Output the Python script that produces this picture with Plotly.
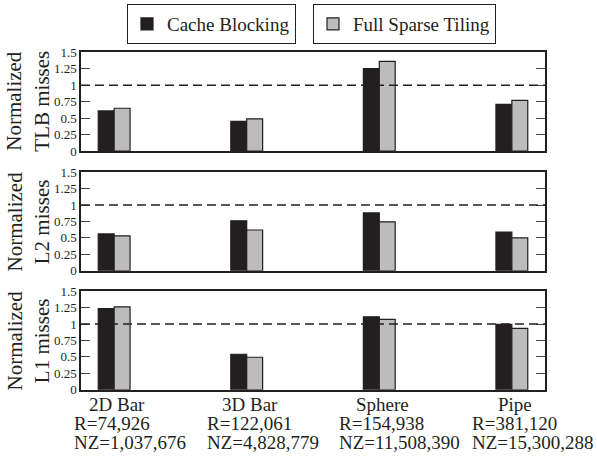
import plotly.graph_objects as go

# Benchmark meshes and their sizes
categories = ["2D Bar", "3D Bar", "Sphere", "Pipe"]
rows_r = ["R=74,926", "R=122,061", "R=154,938", "R=381,120"]
nonzeros = ["NZ=1,037,676", "NZ=4,828,779", "NZ=11,508,390", "NZ=15,300,288"]

series_names = ["Cache Blocking", "Full Sparse Tiling"]

# Normalized miss counts (baseline = 1)
tlb_cb = [0.61, 0.45, 1.25, 0.71]
tlb_fst = [0.65, 0.49, 1.36, 0.77]
l2_cb = [0.56, 0.76, 0.88, 0.59]
l2_fst = [0.53, 0.62, 0.745, 0.50]
l1_cb = [1.235, 0.54, 1.11, 0.995]
l1_fst = [1.26, 0.495, 1.07, 0.935]

panel_titles = ["Normalized<br>TLB misses", "Normalized<br>L2 misses", "Normalized<br>L1 misses"]
tick_vals = [0, 0.25, 0.5, 0.75, 1, 1.25, 1.5]
tick_text = ["0", "0.25", "0.5", "0.75", "1", "1.25", "1.5"]

W, H = 597, 460
SERIF = "Liberation Serif, Times New Roman, serif"
INK = "#231f20"
GREY = "#bcbcbc"

x_idx = list(range(len(categories)))
panels = [(tlb_cb, tlb_fst), (l2_cb, l2_fst), (l1_cb, l1_fst)]
# vertical pixel extents of each panel (top, bottom)
panel_px = [(46.7, 149.0), (170.7, 272.7), (293.7, 395.7)]
x_dom = [81 / W, 545 / W]

fig = go.Figure()
layout = dict()

for p, (cb, fst) in enumerate(panels):
    k = "" if p == 0 else str(p + 1)
    xa, ya = "x" + k, "y" + k
    fig.add_trace(go.Bar(
        x=x_idx, y=cb, name=series_names[0], xaxis=xa, yaxis=ya,
        marker=dict(color=INK, line=dict(color=INK, width=1.2)),
        showlegend=(p == 0), legend="legend", legendgroup="cb",
    ))
    fig.add_trace(go.Bar(
        x=x_idx, y=fst, name=series_names[1], xaxis=xa, yaxis=ya,
        marker=dict(color=GREY, line=dict(color=INK, width=1.2)),
        showlegend=(p == 0), legend="legend2", legendgroup="fst",
    ))
    top, bot = panel_px[p]
    layout["xaxis" + k] = dict(
        domain=x_dom, anchor=ya, range=[-0.25, 3.25],
        showline=True, linecolor=INK, linewidth=1.5, mirror=True,
        showticklabels=False, ticks="", showgrid=False, zeroline=False,
        fixedrange=True,
    )
    layout["yaxis" + k] = dict(
        domain=[1 - bot / H, 1 - top / H], anchor=xa, range=[0, 1.5],
        showline=True, linecolor=INK, linewidth=1.5, mirror="ticks",
        ticks="inside", ticklen=9, tickwidth=1, tickcolor="#444",
        tickvals=tick_vals, ticktext=tick_text,
        tickfont=dict(family=SERIF, size=13, color=INK),
        showgrid=False, zeroline=False, fixedrange=True,
    )
    # baseline reference at 1
    fig.add_shape(type="line", xref=xa + " domain", yref=ya,
                  x0=0, x1=1, y0=1, y1=1,
                  line=dict(color=INK, width=1.5, dash="9px,5px"))
    fig.add_annotation(
        text=panel_titles[p], textangle=-90, xref="paper", yref="paper",
        x=28 / W, y=1 - (top + bot) / 2 / H, xanchor="center", yanchor="middle",
        showarrow=False, font=dict(family=SERIF, size=21, color=INK),
    )

# category labels below the last panel
for i in x_idx:
    fig.add_annotation(text=categories[i], xref="x3", yref="paper", x=i,
                       y=1 - 411 / H, xanchor="center", yanchor="middle",
                       xshift=3, showarrow=False,
                       font=dict(family=SERIF, size=19, color=INK))
    fig.add_annotation(text=rows_r[i], xref="x3", yref="paper", x=i,
                       y=1 - 431 / H, xanchor="left", yanchor="middle",
                       xshift=-42, showarrow=False,
                       font=dict(family=SERIF, size=19, color=INK))
    fig.add_annotation(text=nonzeros[i], xref="x3", yref="paper", x=i,
                       y=1 - 450 / H, xanchor="left", yanchor="middle",
                       xshift=-42, showarrow=False,
                       font=dict(family=SERIF, size=19, color=INK))

legend_style = dict(
    xanchor="left", yanchor="top", y=1 + 3 / H,
    bordercolor=INK, borderwidth=1, bgcolor="white",
    font=dict(family=SERIF, size=19, color=INK),
    orientation="h", itemclick=False, itemdoubleclick=False,
    itemwidth=30,
)

fig.update_layout(
    width=W, height=H,
    margin=dict(l=0, r=0, t=0, b=0),
    font=dict(family=SERIF, color=INK),
    paper_bgcolor="white", plot_bgcolor="white",
    barmode="group", bargap=0.76, bargroupgap=0,
    hovermode=False,
    legend=dict(x=127 / W, **legend_style),
    legend2=dict(x=313 / W, **legend_style),
    **layout,
)

fig.write_html("out.html", config={"displayModeBar": False})
